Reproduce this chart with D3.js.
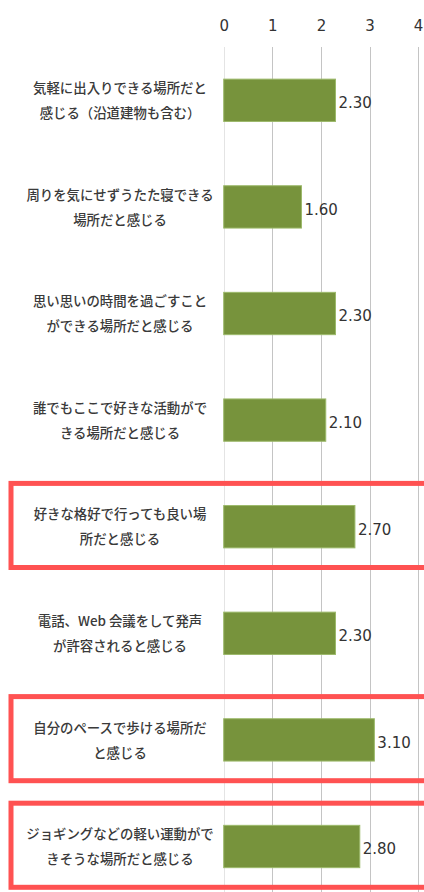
<!DOCTYPE html>
<html><head><meta charset="utf-8">
<script src="https://cdn.jsdelivr.net/npm/d3@7"></script>
<style>html,body{margin:0;padding:0;background:#fff;}svg{display:block;}</style>
</head><body>
<script>
const categories = [
  "気軽に出入りできる場所だと\n感じる（沿道建物も含む）",
  "周りを気にせずうたた寝できる\n場所だと感じる",
  "思い思いの時間を過ごすこと\nができる場所だと感じる",
  "誰でもここで好きな活動がで\nきる場所だと感じる",
  "好きな格好で行っても良い場\n所だと感じる",
  "電話、Web 会議をして発声\nが許容されると感じる",
  "自分のペースで歩ける場所だ\nと感じる",
  "ジョギングなどの軽い運動がで\nきそうな場所だと感じる"
];
const values = [2.30, 1.60, 2.30, 2.10, 2.70, 2.30, 3.10, 2.80];
const tickValues = [0, 1, 2, 3, 4];
const highlighted = [4, 6, 7];

const W = 424, H = 892;
const svg = d3.select("body").append("svg").attr("width", W).attr("height", H);

const x = d3.scaleLinear().domain([0, 4]).range([223.7, 418.1]);
const y = d3.scaleBand().domain(d3.range(categories.length)).range([47, 47 + 106.6 * 8]).paddingInner(0.603).paddingOuter(0.3015);
const step = y.step();

// gridlines
svg.append("g").selectAll("line").data(tickValues).join("line")
  .attr("x1", d => Math.round(x(d)) + 0.5).attr("x2", d => Math.round(x(d)) + 0.5)
  .attr("y1", 47).attr("y2", H)
  .attr("stroke", d => d === 0 ? "#e4e4e4" : "#c4c4c4").attr("stroke-width", 1);

// top axis labels
const ax = svg.append("g").attr("transform", "translate(0,30.5)").call(d3.axisTop(x).tickValues(tickValues).tickSize(0).tickPadding(0).tickFormat(d3.format("d")));
ax.select(".domain").remove();
ax.attr("font-size", null).attr("font-family", null);
ax.selectAll("text").style("font-family", "'DejaVu Sans', Verdana, sans-serif").style("font-size", "15px").attr("fill", "#333").attr("dy", 0);

// bars
svg.append("g").selectAll("rect").data(values).join("rect")
  .attr("x", x(0)).attr("y", (d, i) => y(i))
  .attr("width", d => x(d) - x(0)).attr("height", y.bandwidth())
  .attr("fill", "#77933c").attr("stroke", "#9cb96a").attr("stroke-width", 1);

// value labels
svg.append("g").selectAll("text").data(values).join("text")
  .attr("x", d => x(d) + 3).attr("y", (d, i) => y(i) + y.bandwidth() / 2 + 7.8)
  .style("font-family", "'DejaVu Sans', Verdana, sans-serif").style("font-size", "15px")
  .attr("fill", "#333").text(d => d.toFixed(2));

// category labels
const lab = svg.append("g").selectAll("text").data(categories).join("text")
  .attr("text-anchor", "middle")
  .style("font-family", "'Noto Sans CJK JP', sans-serif").style("font-size", "13.4px")
  .style("font-weight", 500)
  .attr("fill", "#3a3a3a");
lab.each(function(d, i) {
  const lines = d.split("\n");
  const cy = y(i) + y.bandwidth() / 2;
  d3.select(this).selectAll("tspan").data(lines).join("tspan")
    .attr("x", 120).attr("y", (l, j) => cy - 12 + j * 25 + 4.7).text(l => l);
});

// highlight boxes
svg.append("g").selectAll("rect").data(highlighted).join("rect")
  .attr("x", 11).attr("y", i => y(i) - (step - y.bandwidth()) / 2 + 10)
  .attr("width", 440).attr("height", step - 22.5)
  .attr("fill", "none").attr("stroke", "#ff5252").attr("stroke-width", 5);
</script>
</body></html>
